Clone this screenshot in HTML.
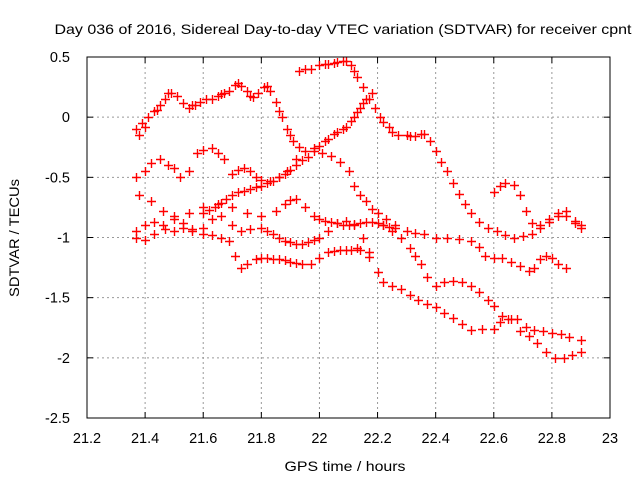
<!DOCTYPE html>
<html><head><meta charset="utf-8"><style>
html,body{margin:0;padding:0;background:#fff}
svg{display:block;font-family:"Liberation Sans",sans-serif}
</style></head><body>
<svg id="chart" width="640" height="480">
<rect width="640" height="480" fill="#fff"/>
<text x="343" y="34" text-anchor="middle" font-size="14" textLength="577" lengthAdjust="spacingAndGlyphs">Day 036 of 2016, Sidereal Day-to-day VTEC variation (SDTVAR) for receiver cpnt</text>
<text x="345" y="471" text-anchor="middle" font-size="14" textLength="121" lengthAdjust="spacingAndGlyphs">GPS time / hours</text>
<text transform="translate(19,238) rotate(-90)" text-anchor="middle" font-size="14" textLength="118" lengthAdjust="spacingAndGlyphs">SDTVAR / TECUs</text>
<g id="grid"></g><g id="ticks"></g><g id="marks"></g>
<rect x="87" y="57" width="523" height="361" fill="none" stroke="#000"/>
</svg>
<script>
const xTicks=[21.2,21.4,21.6,21.8,22,22.2,22.4,22.6,22.8,23];
const xTickLabels=["21.2","21.4","21.6","21.8","22","22.2","22.4","22.6","22.8","23"];
const yTicks=[0.5,0,-0.5,-1,-1.5,-2,-2.5];
const yTickLabels=["0.5","0","-0.5","-1","-1.5","-2","-2.5"];
const trackA=[[21.37,-0.1],[21.39,-0.05],[21.41,0.0],[21.43,0.05],[21.45,0.1],[21.47,0.15],[21.49,0.2],[21.51,0.18],[21.53,0.12],[21.55,0.08],[21.57,0.1],[21.59,0.13],[21.61,0.15],[21.63,0.15],[21.65,0.18],[21.67,0.2],[21.69,0.22],[21.71,0.27],[21.73,0.26],[21.75,0.22],[21.77,0.17],[21.79,0.2],[21.81,0.25],[21.83,0.22],[21.85,0.13],[21.87,0.0],[21.89,-0.1],[21.91,-0.2],[21.93,-0.25],[21.38,-0.15],[21.4,-0.08],[21.44,0.06],[21.48,0.2],[21.56,0.1],[21.66,0.19],[21.72,0.28],[21.76,0.18],[21.82,0.26],[21.86,0.05],[21.9,-0.15]];
const trackL1=[[21.37,-0.5],[21.4,-0.45],[21.42,-0.38],[21.45,-0.35],[21.48,-0.4],[21.5,-0.42],[21.52,-0.5],[21.55,-0.45],[21.58,-0.3],[21.6,-0.27],[21.63,-0.26],[21.65,-0.3],[21.67,-0.35],[21.7,-0.47],[21.72,-0.44],[21.74,-0.42],[21.76,-0.45],[21.78,-0.5],[21.8,-0.52],[21.83,-0.53],[21.86,-0.5],[21.89,-0.45],[21.92,-0.35],[21.95,-0.28],[21.98,-0.26],[22.01,-0.3],[22.04,-0.32],[22.07,-0.37],[22.1,-0.45],[22.12,-0.57],[22.14,-0.65],[22.16,-0.7],[22.18,-0.76],[22.2,-0.8],[22.23,-0.85],[22.26,-0.9],[22.3,-0.95],[22.33,-0.96],[22.36,-0.97],[22.4,-1.0],[22.44,-1.0],[22.48,-1.01],[22.52,-1.03],[22.55,-1.08],[22.57,-1.15],[22.6,-1.17],[22.63,-1.17],[22.66,-1.2],[22.69,-1.24],[22.72,-1.28],[22.74,-1.25],[22.76,-1.18],[22.78,-1.15],[22.8,-1.17],[22.82,-1.22],[22.85,-1.25]];
const trackL2=[[21.6,-0.8],[21.62,-0.77],[21.64,-0.75],[21.66,-0.71],[21.68,-0.68],[21.7,-0.65],[21.72,-0.62],[21.74,-0.61],[21.76,-0.6],[21.78,-0.58],[21.8,-0.57],[21.82,-0.55],[21.84,-0.53],[21.86,-0.5],[21.88,-0.47],[21.9,-0.44],[21.92,-0.4],[21.94,-0.36],[21.96,-0.33],[21.98,-0.28],[22.0,-0.24],[22.02,-0.2],[22.03,-0.18],[22.05,-0.14],[22.06,-0.12],[22.08,-0.1],[22.09,-0.08],[22.11,-0.03],[22.12,0.0],[22.13,0.04],[22.14,0.08],[22.15,0.12],[22.16,0.15],[22.18,0.2]];
const trackL3=[[21.37,-0.95],[21.4,-0.9],[21.43,-0.87],[21.46,-0.9],[21.5,-0.95],[21.53,-0.92],[21.56,-0.95],[21.6,-0.92],[21.63,-0.85],[21.66,-0.82],[21.7,-0.9],[21.73,-0.95],[21.76,-0.93],[21.8,-0.92],[21.82,-0.95],[21.84,-0.97],[21.86,-1.0],[21.88,-1.03],[21.9,-1.04],[21.92,-1.05],[21.94,-1.05],[21.96,-1.04],[21.98,-1.02],[22.0,-1.0],[22.03,-0.95],[22.06,-0.88],[22.09,-0.86],[22.12,-0.9],[22.15,-1.0],[22.17,-1.12]];
const trackL4=[[21.38,-0.65],[21.42,-0.7],[21.46,-0.78],[21.5,-0.82],[21.55,-0.8],[21.6,-0.75],[21.65,-0.72],[21.7,-0.75],[21.75,-0.8],[21.8,-0.82],[21.85,-0.78],[21.88,-0.72],[21.9,-0.69],[21.92,-0.68],[21.95,-0.75],[21.98,-0.82],[22.0,-0.85],[22.02,-0.86],[22.04,-0.87],[22.06,-0.88],[22.08,-0.9],[22.1,-0.9],[22.12,-0.89],[22.14,-0.88],[22.16,-0.87],[22.18,-0.87],[22.2,-0.88],[22.22,-0.9],[22.24,-0.91],[22.26,-0.92]];
const trackL5=[[21.37,-1.0],[21.4,-1.02],[21.43,-0.97],[21.47,-0.93],[21.5,-0.85],[21.53,-0.88],[21.56,-0.93],[21.6,-0.97],[21.63,-0.98],[21.66,-1.0],[21.69,-1.03],[21.71,-1.15],[21.73,-1.25],[21.75,-1.22],[21.78,-1.18],[21.8,-1.17],[21.82,-1.17],[21.84,-1.18],[21.86,-1.18],[21.88,-1.19],[21.9,-1.2],[21.92,-1.21],[21.94,-1.22],[21.97,-1.22],[22.0,-1.17],[22.03,-1.12],[22.05,-1.11],[22.07,-1.1],[22.09,-1.1],[22.11,-1.1],[22.13,-1.09]];
const trackC=[[21.93,0.38],[21.95,0.4],[21.97,0.4],[22.0,0.43],[22.02,0.44],[22.03,0.44],[22.05,0.45],[22.06,0.46],[22.08,0.47],[22.09,0.47],[22.11,0.43],[22.12,0.38],[22.13,0.33],[22.15,0.25],[22.17,0.15],[22.19,0.08],[22.21,0.0],[22.22,-0.04],[22.24,-0.08],[22.25,-0.12],[22.27,-0.15],[22.3,-0.15],[22.31,-0.16],[22.33,-0.16],[22.35,-0.14],[22.36,-0.14],[22.38,-0.2],[22.4,-0.28],[22.42,-0.37],[22.44,-0.45],[22.46,-0.55],[22.48,-0.64],[22.5,-0.72],[22.52,-0.8],[22.55,-0.87],[22.58,-0.92],[22.61,-0.95],[22.64,-0.98],[22.67,-1.0],[22.7,-0.99],[22.73,-0.97],[22.76,-0.92],[22.79,-0.87],[22.82,-0.82],[22.85,-0.82],[22.88,-0.88],[22.9,-0.92]];
const trackF=[[22.6,-0.62],[22.62,-0.57],[22.64,-0.55],[22.67,-0.56],[22.69,-0.65],[22.71,-0.78],[22.73,-0.88],[22.76,-0.9],[22.79,-0.85],[22.82,-0.8],[22.85,-0.78],[22.88,-0.86],[22.9,-0.9]];
const trackD=[[22.14,-1.1],[22.17,-1.16],[22.2,-1.29],[22.22,-1.37],[22.25,-1.4],[22.28,-1.43],[22.31,-1.48],[22.34,-1.52],[22.37,-1.55],[22.4,-1.58],[22.43,-1.63],[22.46,-1.67],[22.49,-1.72],[22.52,-1.77],[22.56,-1.76],[22.6,-1.76],[22.62,-1.7],[22.65,-1.68],[22.68,-1.68],[22.71,-1.74],[22.74,-1.77],[22.77,-1.78],[22.8,-1.79],[22.83,-1.8],[22.86,-1.83],[22.9,-1.85]];
const trackE=[[22.22,-0.9],[22.25,-0.95],[22.28,-1.0],[22.31,-1.09],[22.33,-1.15],[22.35,-1.22],[22.37,-1.33],[22.4,-1.4],[22.43,-1.37],[22.46,-1.36],[22.49,-1.37],[22.52,-1.4],[22.55,-1.45],[22.58,-1.52],[22.6,-1.57],[22.63,-1.65],[22.66,-1.68],[22.69,-1.78],[22.72,-1.82],[22.75,-1.88],[22.78,-1.95],[22.81,-2.0],[22.84,-2.0],[22.87,-1.98],[22.9,-1.95]];
const tracks=[trackA,trackL1,trackL2,trackL3,trackL4,trackL5,trackC,trackF,trackD,trackE];
const trackNames=["a","l1","l2","l3","l4","l5","c","f","d","e"];

const NS="http://www.w3.org/2000/svg";
const X0=87,X1=610,Y0=57,Y1=418;
function sx(v){return X0+(v-21.2)/(23-21.2)*(X1-X0);}
function sy(v){return Y0+(0.5-v)/(0.5+2.5)*(Y1-Y0);}
function mk(tag,attrs,parent){const e=document.createElementNS(NS,tag);for(const k in attrs)e.setAttribute(k,attrs[k]);parent.appendChild(e);return e;}
const grid=document.getElementById('grid'),ticks=document.getElementById('ticks'),marks=document.getElementById('marks');
xTicks.forEach((t,i)=>{
  const x=sx(t);
  if(i>0&&i<xTicks.length-1){const g=mk('line',{x1:x,x2:x,y1:Y0,y2:Y1,stroke:'#999','stroke-dasharray':'2,3'},grid);
  
  }
  mk('line',{x1:x,x2:x,y1:Y1,y2:Y1-6,stroke:'#000'},ticks);
  mk('line',{x1:x,x2:x,y1:Y0,y2:Y0+6,stroke:'#000'},ticks);
  const l=mk('text',{x:x,y:Y1+25,'text-anchor':'middle','font-size':'14.5'},ticks);
  l.textContent=xTickLabels[i];
  
  
});
yTicks.forEach((t,i)=>{
  const y=sy(t);
  if(i>0&&i<yTicks.length-1){const g=mk('line',{x1:X0,x2:X1,y1:y,y2:y,stroke:'#999','stroke-dasharray':'2,3'},grid);
  
  }
  mk('line',{x1:X0,x2:X0+6,y1:y,y2:y,stroke:'#000'},ticks);
  mk('line',{x1:X1,x2:X1-6,y1:y,y2:y,stroke:'#000'},ticks);
  const l=mk('text',{x:X0-17,y:y+5,'text-anchor':'end','font-size':'14.5'},ticks);
  l.textContent=yTickLabels[i];
  
  
});
tracks.forEach((tr,ti)=>{
  tr.forEach(p=>{
    const x=Math.round(sx(p[0]))+0.5,y=Math.round(sy(p[1]))+0.5;
    const m=mk('path',{d:`M${x-4.5},${y}H${x+4.5}M${x},${y-4.5}V${y+4.5}`,stroke:'#f00','stroke-width':'1.4',fill:'none'},marks);
    
    
  });
});
</script>
</body></html>
